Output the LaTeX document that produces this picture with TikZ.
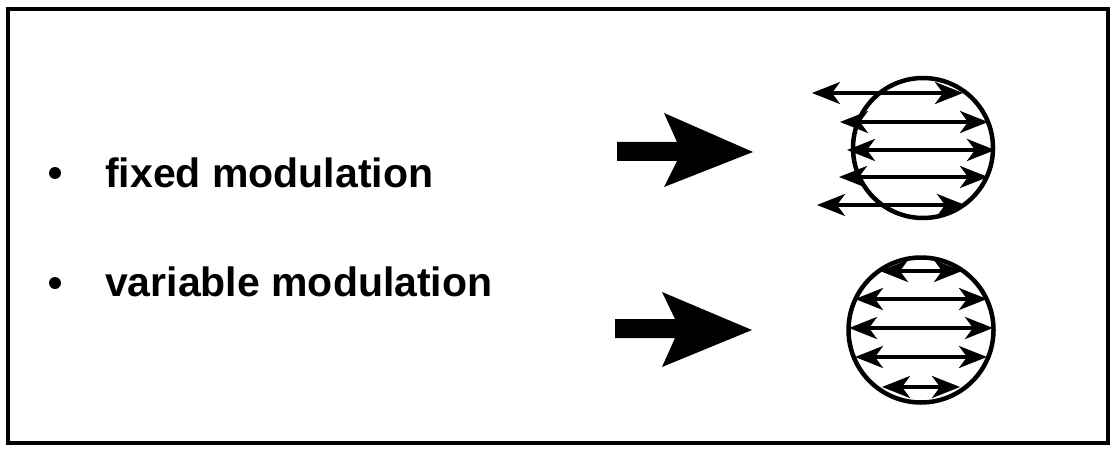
\documentclass[tikz,border=0pt]{standalone}
\usepackage{fontspec}
\setmainfont{Liberation Sans}
\usetikzlibrary{arrows.meta}
\tikzset{
  lbl/.style={anchor=base west, inner sep=0pt, font=\fontsize{41}{41}\selectfont\bfseries},
  dot/.style={circle, fill=black, minimum size=12pt, inner sep=0pt},
  ring/.style={circle, draw=black, line width=4.5pt, inner sep=0pt},
  chord/.style={line width=3.5pt, {Stealth[length=28pt,width=22pt,inset=8pt]}-{Stealth[length=28pt,width=22pt,inset=8pt]}},
  bigarrow/.style={fill=black}
}
\begin{document}
\begin{tikzpicture}[x=1pt,y=-1pt]
\useasboundingbox (0,0) rectangle (1115,449);
\draw[line width=4.5pt] (8,9) rectangle (1108,443);
% bullets and labels
\node[dot] (b1) at (55,173) {};
\node[dot] (b2) at (55,283) {};
\node[lbl] (t1) at (105,187) {fixed modulation};
\node[lbl] (t2) at (105,296) {variable modulation};
% big arrows
\fill[bigarrow] (617,142) -- (677,142) -- (664,113) -- (753,152) -- (664,187) -- (677,161) -- (617,161) -- cycle;
\fill[bigarrow] (615,319) -- (675,319) -- (662,292) -- (752,330) -- (662,367) -- (675,338) -- (615,338) -- cycle;
% circle 1 (fixed)
\node[ring, minimum size=140pt] (c1) at (923,148) {};
\coordinate (a1l) at (812,93);  \coordinate (a1r) at (963,93);
\coordinate (a2l) at (840,122); \coordinate (a2r) at (988,122);
\coordinate (a3l) at (847,150); \coordinate (a3r) at (995,150);
\coordinate (a4l) at (839,177); \coordinate (a4r) at (988,177);
\coordinate (a5l) at (817,205); \coordinate (a5r) at (965,205);
\draw[chord] (a1l) -- (a1r);
\draw[chord] (a2l) -- (a2r);
\draw[chord] (a3l) -- (a3r);
\draw[chord] (a4l) -- (a4r);
\draw[chord] (a5l) -- (a5r);
% circle 2 (variable)
\node[ring, minimum size=145pt] (c2) at (921,330) {};
\coordinate (v1l) at (880,271); \coordinate (v1r) at (962,271);
\coordinate (v2l) at (855,299); \coordinate (v2r) at (987,299);
\coordinate (v3l) at (849,328); \coordinate (v3r) at (993,328);
\coordinate (v4l) at (855,357); \coordinate (v4r) at (987,357);
\coordinate (v5l) at (882,387); \coordinate (v5r) at (960,387);
\draw[chord] (v1l) -- (v1r);
\draw[chord] (v2l) -- (v2r);
\draw[chord] (v3l) -- (v3r);
\draw[chord] (v4l) -- (v4r);
\draw[chord] (v5l) -- (v5r);
\end{tikzpicture}
\end{document}
